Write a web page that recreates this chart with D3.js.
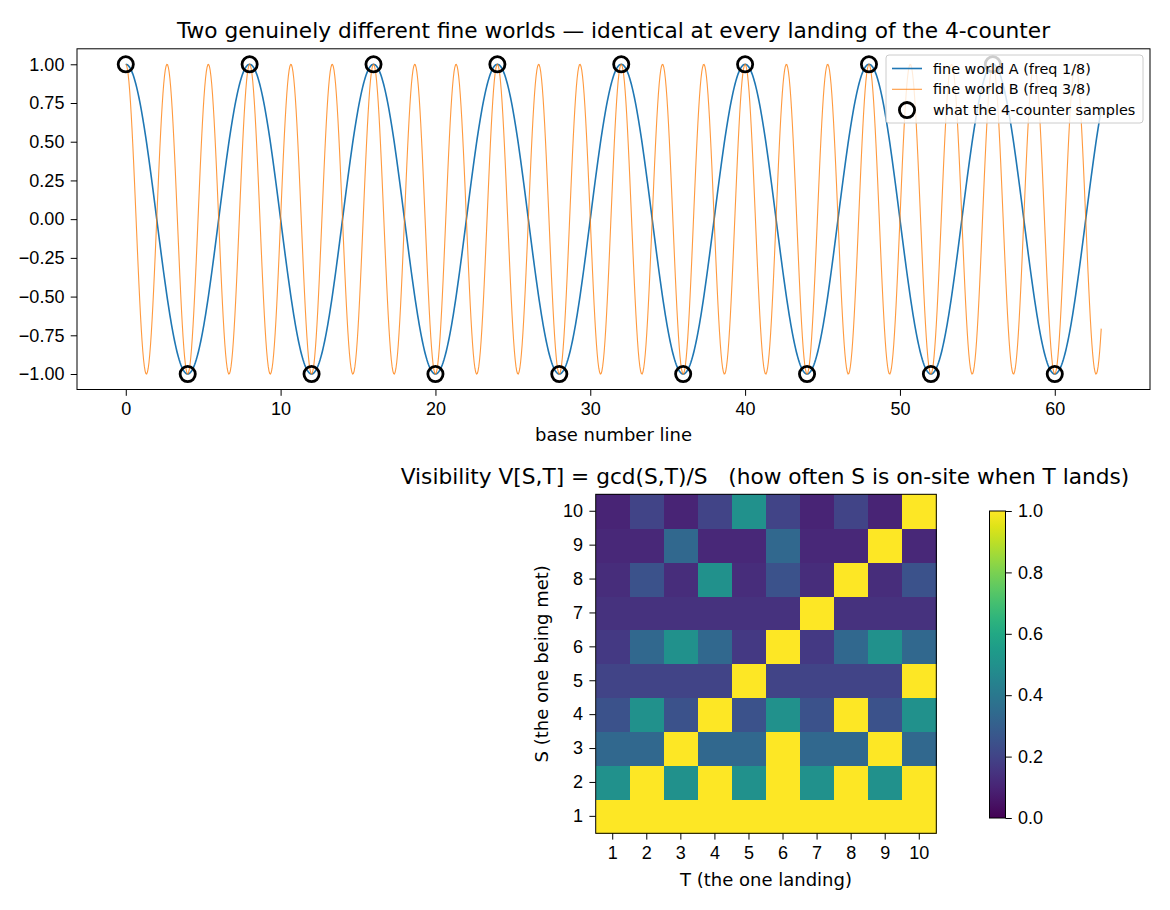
<!DOCTYPE html>
<html>
<head>
<meta charset="utf-8">
<script src="https://cdn.jsdelivr.net/npm/d3@7"></script>
<style>
  body { margin: 0; background: white; }
  svg { display: block; font-family: "DejaVu Sans", sans-serif; }
  text { white-space: pre; }
</style>
</head>
<body>
<div id="chart"></div>
<script>
// frequencies as given in the legend
var freqA = 1 / 8;
var freqB = 3 / 8;
var xMax = 63;

// where the 4-counter lands, and what it reads there
var sampleX = [0, 4, 8, 12, 16, 20, 24, 28, 32, 36, 40, 44, 48, 52, 56, 60];
var sampleY = [1, -1, 1, -1, 1, -1, 1, -1, 1, -1, 1, -1, 1, -1, 1, -1];

var topXTicks = [0, 10, 20, 30, 40, 50, 60];
var topYTicks = [-1, -0.75, -0.5, -0.25, 0, 0.25, 0.5, 0.75, 1];

// heatmap: rows are S = 1..10, columns are T = 1..10
var sValues = [1, 2, 3, 4, 5, 6, 7, 8, 9, 10];
var tValues = [1, 2, 3, 4, 5, 6, 7, 8, 9, 10];
var visRows = [
  [1, 1, 1, 1, 1, 1, 1, 1, 1, 1],
  [0.5, 1, 0.5, 1, 0.5, 1, 0.5, 1, 0.5, 1],
  [0.333, 0.333, 1, 0.333, 0.333, 1, 0.333, 0.333, 1, 0.333],
  [0.25, 0.5, 0.25, 1, 0.25, 0.5, 0.25, 1, 0.25, 0.5],
  [0.2, 0.2, 0.2, 0.2, 1, 0.2, 0.2, 0.2, 0.2, 1],
  [0.167, 0.333, 0.5, 0.333, 0.167, 1, 0.167, 0.333, 0.5, 0.333],
  [0.143, 0.143, 0.143, 0.143, 0.143, 0.143, 1, 0.143, 0.143, 0.143],
  [0.125, 0.25, 0.125, 0.5, 0.125, 0.25, 0.125, 1, 0.125, 0.25],
  [0.111, 0.111, 0.333, 0.111, 0.111, 0.333, 0.111, 0.111, 1, 0.111],
  [0.1, 0.2, 0.1, 0.2, 0.5, 0.2, 0.1, 0.2, 0.1, 1]
];
var cbarTicks = [0, 0.2, 0.4, 0.6, 0.8, 1.0];

const BLUE = "#1f77b4";
const ORANGE = "#ff7f0e";
const TICK_FONT = "18px";
const LABEL_FONT = "18px";
const TITLE_FONT = "21.7px";

var width = 1170, height = 910;

var svg = d3.select("#chart").append("svg")
  .attr("width", width)
  .attr("height", height)
  .style("background", "white");

function styleAxis(a) {
  a.select(".domain").remove();
  a.selectAll("text").style("font-size", TICK_FONT).attr("fill", "black");
  a.selectAll("line").attr("stroke", "black");
}

// ---------- top panel ----------
var x = d3.scaleLinear().domain([-3.15, 66.15]).range([77, 1150]);
var y = d3.scaleLinear().domain([-1.1, 1.1]).range([389.5, 48.8]);

var topPanel = svg.append("g");

var fine = d3.range(0, xMax + 0.0001, 0.05);

var lineGen = d3.line().x(d => x(d[0])).y(d => y(d[1]));

topPanel.append("path")
  .datum(fine.map(t => [t, Math.cos(2 * Math.PI * freqA * t)]))
  .attr("d", lineGen)
  .attr("fill", "none")
  .attr("stroke", BLUE)
  .attr("stroke-width", 1.6);

topPanel.append("path")
  .datum(fine.map(t => [t, Math.cos(2 * Math.PI * freqB * t)]))
  .attr("d", lineGen)
  .attr("fill", "none")
  .attr("stroke", ORANGE)
  .attr("stroke-opacity", 0.8)
  .attr("stroke-width", 1.1);

topPanel.append("g")
  .selectAll("circle")
  .data(sampleX.map((sx, i) => [sx, sampleY[i]]))
  .join("circle")
  .attr("cx", d => x(d[0]))
  .attr("cy", d => y(d[1]))
  .attr("r", 7.6)
  .attr("fill", "none")
  .attr("stroke", "black")
  .attr("stroke-width", 2.8);

var xAxis = topPanel.append("g")
  .attr("transform", "translate(0,389.5)")
  .call(d3.axisBottom(x).tickValues(topXTicks).tickSize(6.3).tickPadding(6.3).tickSizeOuter(0));
var yAxis = topPanel.append("g")
  .attr("transform", "translate(77,0)")
  .call(d3.axisLeft(y).tickValues(topYTicks).tickFormat(d3.format(".2f")).tickSize(6.3).tickPadding(6.3).tickSizeOuter(0));
styleAxis(xAxis);
styleAxis(yAxis);

topPanel.append("rect")
  .attr("x", 77).attr("y", 48.8)
  .attr("width", 1150 - 77).attr("height", 389.5 - 48.8)
  .attr("fill", "none").attr("stroke", "black").attr("stroke-width", 1);

topPanel.append("text")
  .attr("x", (77 + 1150) / 2).attr("y", 441)
  .attr("text-anchor", "middle")
  .style("font-size", LABEL_FONT)
  .text("base number line");

svg.append("text")
  .attr("x", (77 + 1150) / 2).attr("y", 38.3)
  .attr("text-anchor", "middle")
  .style("font-size", TITLE_FONT)
  .text("Two genuinely different fine worlds — identical at every landing of the 4-counter");

// legend
var legend = topPanel.append("g").attr("transform", "translate(886,55)");
legend.append("rect")
  .attr("width", 257).attr("height", 68).attr("rx", 3)
  .attr("fill", "white").attr("fill-opacity", 0.8)
  .attr("stroke", "#cccccc");

var legendItems = [
  { label: "fine world A (freq 1/8)", kind: "line", color: BLUE, w: 1.6, op: 1 },
  { label: "fine world B (freq 3/8)", kind: "line", color: ORANGE, w: 1.1, op: 0.8 },
  { label: "what the 4-counter samples", kind: "marker" }
];
legendItems.forEach((it, i) => {
  var ly = 13.5 + i * 20.8;
  if (it.kind === "line") {
    legend.append("line")
      .attr("x1", 6).attr("x2", 36).attr("y1", ly).attr("y2", ly)
      .attr("stroke", it.color).attr("stroke-width", it.w).attr("stroke-opacity", it.op);
  } else {
    legend.append("circle")
      .attr("cx", 21).attr("cy", ly).attr("r", 7.6)
      .attr("fill", "none").attr("stroke", "black").attr("stroke-width", 2.8);
  }
  legend.append("text")
    .attr("x", 47).attr("y", ly + 5)
    .style("font-size", "14.4px")
    .text(it.label);
});

// ---------- bottom panel: heatmap ----------
var hx = d3.scaleBand().domain(tValues).range([595.7, 936.3]);
var hy = d3.scaleBand().domain(sValues).range([833.3, 494.3]);
var color = d3.scaleSequential(d3.interpolateViridis).domain([0, 1]);

var cells = [];
visRows.forEach((row, i) => {
  row.forEach((v, j) => cells.push({ s: sValues[i], t: tValues[j], v: v }));
});

var heat = svg.append("g");
heat.selectAll("rect")
  .data(cells)
  .join("rect")
  .attr("x", d => hx(d.t))
  .attr("y", d => hy(d.s))
  .attr("width", hx.bandwidth() + 0.5)
  .attr("height", hy.bandwidth() + 0.5)
  .attr("fill", d => color(d.v))
  .attr("shape-rendering", "crispEdges");

heat.append("rect")
  .attr("x", 595.7).attr("y", 494.3)
  .attr("width", 936.3 - 595.7).attr("height", 833.3 - 494.3)
  .attr("fill", "none").attr("stroke", "black").attr("stroke-width", 1);

var hxAxis = heat.append("g")
  .attr("transform", "translate(0,833.3)")
  .call(d3.axisBottom(hx).tickSize(6.3).tickPadding(6.3).tickSizeOuter(0));
var hyAxis = heat.append("g")
  .attr("transform", "translate(595.7,0)")
  .call(d3.axisLeft(hy).tickSize(6.3).tickPadding(6.3).tickSizeOuter(0));
styleAxis(hxAxis);
styleAxis(hyAxis);

heat.append("text")
  .attr("x", (595.7 + 936.3) / 2).attr("y", 886)
  .attr("text-anchor", "middle")
  .style("font-size", LABEL_FONT)
  .text("T (the one landing)");

heat.append("text")
  .attr("transform", "translate(548," + (494.3 + 833.3) / 2 + ") rotate(-90)")
  .attr("text-anchor", "middle")
  .style("font-size", LABEL_FONT)
  .text("S (the one being met)");

svg.append("text")
  .attr("x", 765).attr("y", 484.3)
  .attr("text-anchor", "middle")
  .style("font-size", TITLE_FONT)
  .text("Visibility V[S,T] = gcd(S,T)/S   (how often S is on-site when T lands)");

// colorbar
var cbY = d3.scaleLinear().domain([0, 1]).range([818, 511]);
var defs = svg.append("defs");
var grad = defs.append("linearGradient")
  .attr("id", "viridisGrad")
  .attr("x1", "0%").attr("x2", "0%").attr("y1", "100%").attr("y2", "0%");
d3.range(0, 1.0001, 0.05).forEach(t => {
  grad.append("stop").attr("offset", (t * 100) + "%").attr("stop-color", color(t));
});

var cbar = svg.append("g");
cbar.append("rect")
  .attr("x", 989.5).attr("y", cbY(1))
  .attr("width", 16).attr("height", cbY(0) - cbY(1))
  .attr("fill", "url(#viridisGrad)")
  .attr("stroke", "black").attr("stroke-width", 1);

var cbAxis = cbar.append("g")
  .attr("transform", "translate(1005.5,0)")
  .call(d3.axisRight(cbY).tickValues(cbarTicks).tickFormat(d3.format(".1f")).tickSize(6.3).tickPadding(6.3).tickSizeOuter(0));
styleAxis(cbAxis);
</script>
</body>
</html>
